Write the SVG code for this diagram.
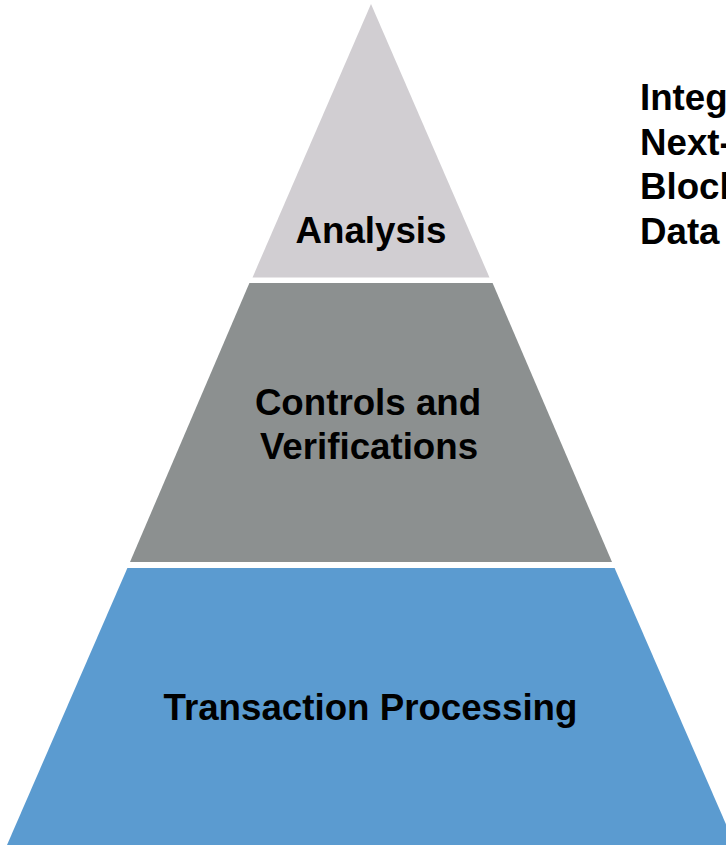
<svg xmlns="http://www.w3.org/2000/svg" width="726" height="845" viewBox="0 0 726 845">
<style>
.lbl{font-family:"Liberation Sans",Arial,sans-serif;font-weight:bold;font-size:36.7px;fill:#000;}
.c{text-anchor:middle;}
</style>
<rect width="726" height="845" fill="#fff"/>
<g id="analysis">
<polygon points="371,4 489.5,277.5 252.5,277.5" fill="#D1CED2"/>
<text class="lbl c" x="371" y="243">Analysis</text>
</g>
<g id="controls">
<polygon points="249.4,283 492.6,283 612,562 130,562" fill="#8C9090"/>
<text class="lbl c" x="368" y="415">Controls and</text>
<text class="lbl c" x="369" y="458.5">Verifications</text>
</g>
<g id="transaction">
<polygon points="127.4,568 614.6,568 735,845 7,845" fill="#5B9BD0"/>
<text class="lbl c" x="370.5" y="720">Transaction Processing</text>
</g>
<g id="notes">
<text class="lbl" x="640" y="110">Integ</text>
<text class="lbl" x="640" y="155">Next-</text>
<text class="lbl" x="640" y="199">Block</text>
<text class="lbl" x="640" y="244">Data</text>
</g>
<g id="connectors"></g>
</svg>
